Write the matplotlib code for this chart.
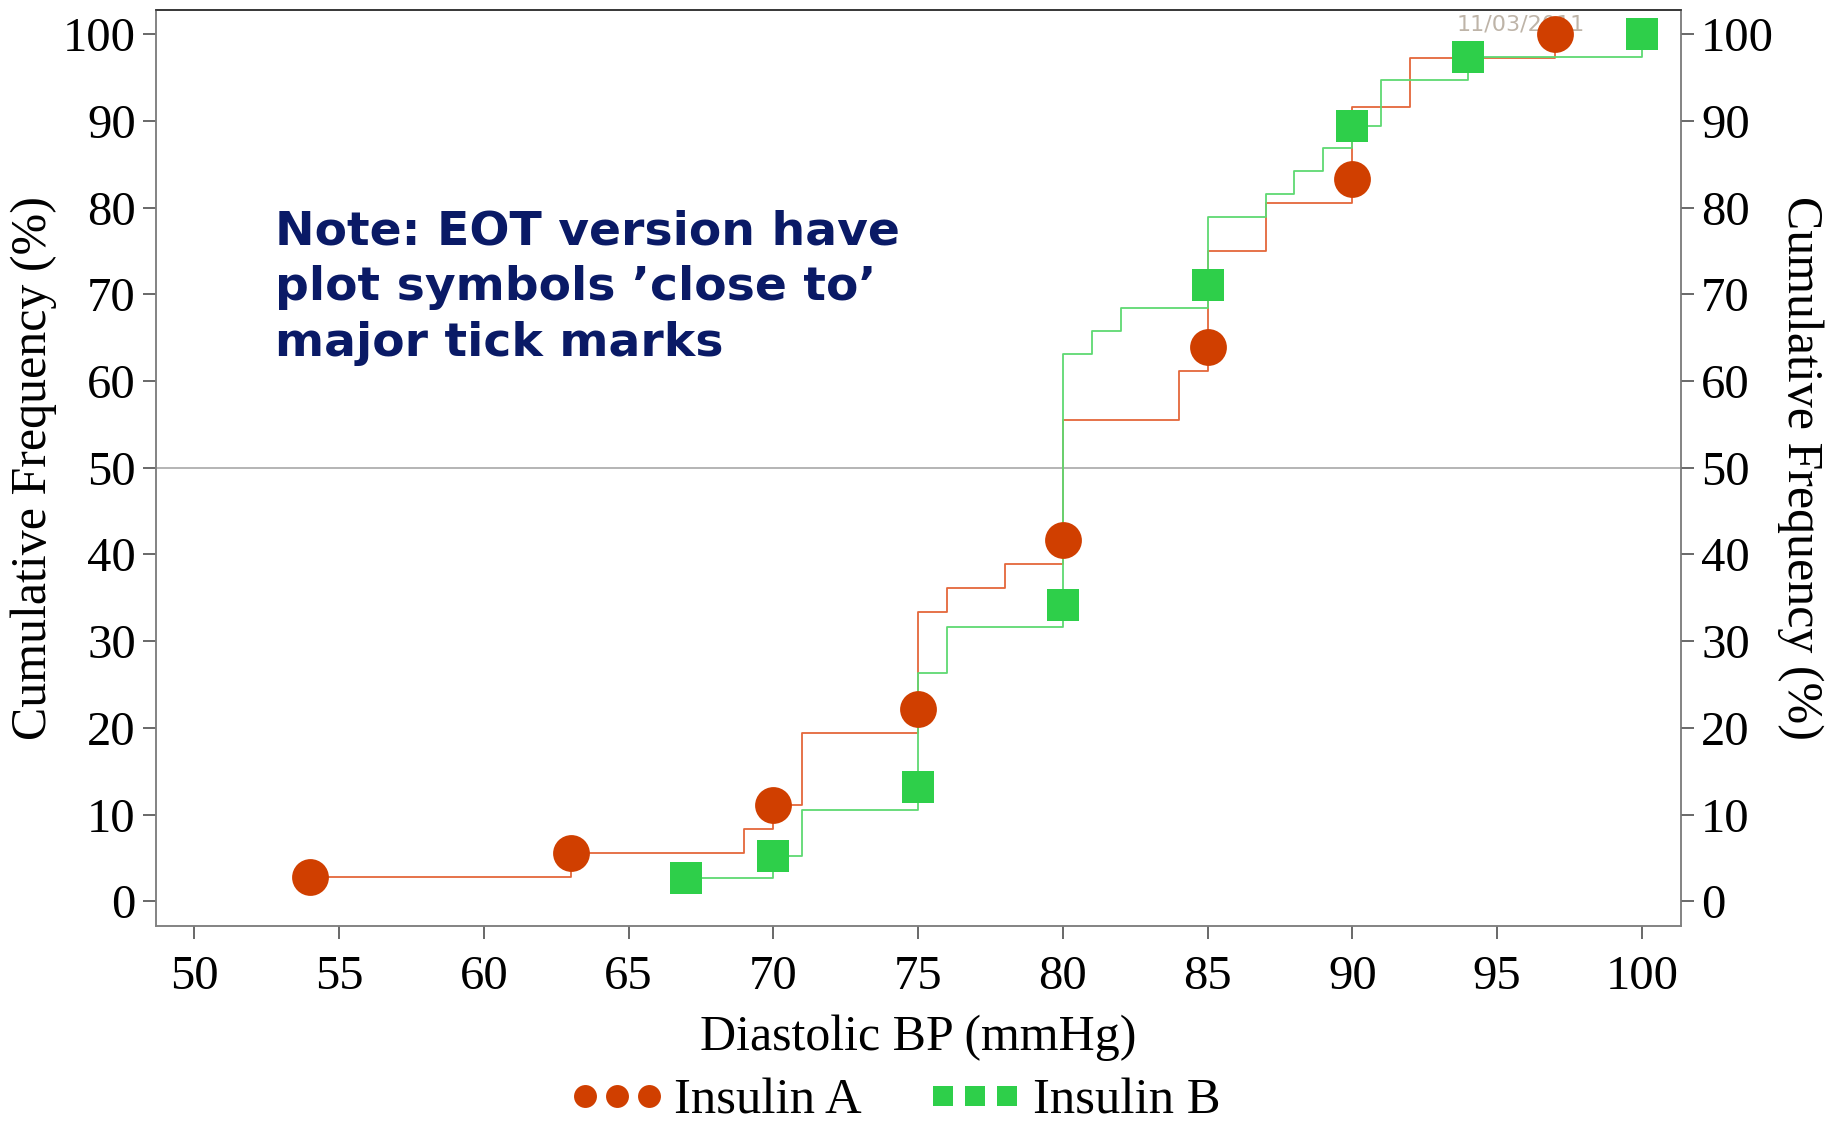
import matplotlib
matplotlib.use('Agg')
import matplotlib.pyplot as plt
from matplotlib.lines import Line2D
import numpy as np

# ---------------- data ----------------
# Insulin A: cumulative counts at each observed diastolic BP (n = 36)
a_n = 36
a_x = [54, 63, 69, 70, 71, 75, 76, 78, 80, 84, 85, 87, 90, 92, 97]
a_cum = [1, 2, 3, 4, 7, 12, 13, 14, 20, 22, 27, 29, 33, 35, 36]
# plot symbols "close to" major tick marks
a_sym_x = [54, 63, 70, 75, 80, 85, 90, 97]
a_sym_cum = [1, 2, 4, 8, 15, 23, 30, 36]

# Insulin B (n = 38)
b_n = 38
b_x = [67, 70, 71, 75, 76, 80, 81, 82, 85, 87, 88, 89, 90, 91, 94, 100]
b_cum = [1, 2, 4, 10, 12, 24, 25, 26, 30, 31, 32, 33, 34, 36, 37, 38]
b_sym_x = [67, 70, 75, 80, 85, 90, 94, 100]
b_sym_cum = [1, 2, 5, 13, 27, 34, 37, 38]

series_names = ["Insulin A", "Insulin B"]
x_ticks = list(range(50, 101, 5))
y_ticks = list(range(0, 101, 10))
ref_line = 50
date_stamp = "11/03/2011"
note_text = "Note: EOT version have\nplot symbols \u2019close to\u2019\nmajor tick marks"

a_pct = 100.0 * np.array(a_cum) / a_n
a_sym_pct = 100.0 * np.array(a_sym_cum) / a_n
b_pct = 100.0 * np.array(b_cum) / b_n
b_sym_pct = 100.0 * np.array(b_sym_cum) / b_n

# ---------------- style ----------------
RED_M = '#D03F00'
RED_L = '#E4673A'
GRN_M = '#2ECF4A'
GRN_L = '#5ED972'
SERIF = 'Liberation Serif'

fig = plt.figure(figsize=(18.45, 11.24), dpi=100)
ax = fig.add_axes([156/1845, 1 - 926/1124, (1681-156)/1845, (926-10)/1124])

ax.axhline(ref_line, color='#A0A0A0', lw=1.1, zorder=1)

ax.step(a_x, a_pct, where='post', color=RED_L, lw=1.3, zorder=3)
ax.step(b_x, b_pct, where='post', color=GRN_L, lw=1.3, zorder=3)

ax.text(95.82, 100.4, date_stamp, fontsize=16, family='DejaVu Sans', color='#BEB4A8',
        ha='center', va='baseline', zorder=2)

ax.plot(a_sym_x, a_sym_pct, linestyle='None', marker='o', markersize=26.5,
        color=RED_M, markeredgewidth=0, zorder=5)
ax.plot(b_sym_x, b_sym_pct, linestyle='None', marker='s', markersize=23,
        color=GRN_M, markeredgewidth=0, zorder=5)

ax.text(52.8, 62.9, note_text, fontsize=34, family='DejaVu Sans', fontweight='bold',
        color='#0A1A66', ha='left', va='baseline', linespacing=1.3, zorder=6)

ax.set_xlim(48.68, 101.35)
ax.set_ylim(-2.85, 102.8)
ax.set_xticks(x_ticks)
ax.set_yticks(y_ticks)

ax2 = ax.twinx()
ax2.set_ylim(ax.get_ylim())
ax2.set_yticks(y_ticks)

for a in (ax, ax2):
    for side in ('left', 'right', 'bottom'):
        a.spines[side].set_color('#808080')
        a.spines[side].set_linewidth(1.1)
    a.spines['top'].set_color('#303030')
    a.spines['top'].set_linewidth(1.1)
    a.tick_params(axis='both', direction='out', length=9.5, width=1.1, color='#404040',
                  labelsize=35, pad=5)
    for lab in a.get_xticklabels() + a.get_yticklabels():
        lab.set_family(SERIF)
ax.tick_params(axis='x', pad=11.5)

ax.set_xlabel("Diastolic BP (mmHg)", fontsize=36, family=SERIF, labelpad=11)
ax.set_ylabel("Cumulative Frequency (%)", fontsize=36, family=SERIF, labelpad=4)
ax2.set_ylabel("Cumulative Frequency (%)", fontsize=36, family=SERIF, rotation=270,
               va='bottom', labelpad=2)

handles = [
    Line2D([], [], linestyle='None', marker='o', markersize=16.5, color=RED_M,
           markeredgewidth=0),
    Line2D([], [], linestyle='None', marker='s', markersize=14.5, color=GRN_M,
           markeredgewidth=0),
]
fig.legend(handles, series_names, loc='center', bbox_to_anchor=(895/1845, 1 - 1101/1124),
           ncol=2, numpoints=3, frameon=False, handlelength=1.86, handletextpad=0.2,
           columnspacing=1.31, borderpad=0, borderaxespad=0,
           prop={'family': SERIF, 'size': 36.5})

fig.savefig('out.png', dpi=100)
